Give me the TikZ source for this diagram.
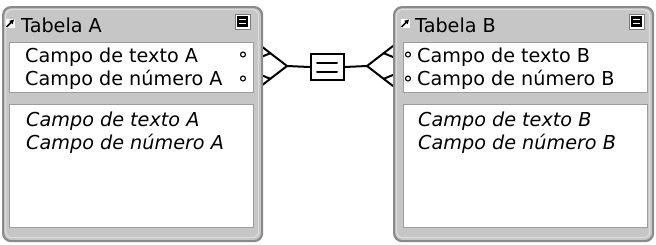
\documentclass[tikz,border=0pt]{standalone}
\usepackage{fontspec}
\setmainfont{DejaVu Sans}
\usepackage{tikz}
\usetikzlibrary{arrows.meta, positioning, calc}
\definecolor{myframefill}{HTML}{C6C6C6}
\definecolor{myframeedge}{HTML}{8A8A8A}
\definecolor{myframelight}{HTML}{DCDCDC}
\definecolor{mypaneledge}{HTML}{9C9C9C}
\definecolor{mybtnedge}{HTML}{7A7A7A}
\tikzset{
tableframe/.style={
draw=myframeedge,
fill=myframefill,
rounded corners=8pt,
line width=2.2pt,
inner sep=0pt,
minimum width=259pt,
minimum height=234pt,
anchor=north west
},
framehighlight/.style={
draw=myframelight,
rounded corners=6pt,
line width=1.2pt,
inner sep=0pt,
minimum width=253pt,
minimum height=228pt,
anchor=north west
},
panel/.style={
draw=mypaneledge,
fill=white,
line width=1.2pt,
inner sep=0pt,
minimum width=244pt,
anchor=north west
},
titletext/.style={
font=\fontsize{19.2}{22}\selectfont,
anchor=base west,
inner sep=0pt
},
fieldtext/.style={
font=\fontsize{19.2}{22}\selectfont,
anchor=base west,
inner sep=0pt
},
listtext/.style={
font=\fontsize{19.2}{22}\selectfont\itshape,
anchor=base west,
inner sep=0pt
},
keydot/.style={
circle,
draw=black,
fill=white,
line width=1.1pt,
minimum size=5pt,
inner sep=0pt
},
iconbox/.style={
fill=white,
minimum width=9pt,
minimum height=9pt,
inner sep=0pt
},
iconarrow/.style={
-{Triangle[length=4.5pt,width=4.5pt]},
line width=1.6pt
},
btnbox/.style={
draw=mybtnedge,
fill=white,
line width=0.8pt,
minimum width=15pt,
minimum height=15pt,
inner sep=0pt
},
btncore/.style={
fill=black,
minimum width=11pt,
minimum height=11pt,
inner sep=0pt
},
crow/.style={
line width=2pt,
line cap=round
},
relbox/.style={
draw=black,
fill=white,
line width=2pt,
minimum width=33pt,
minimum height=26pt,
inner sep=0pt
}
}

\begin{document}
\begin{tikzpicture}[x=1pt,y=-1pt]
\useasboundingbox (0,0) rectangle (656,244);

% crow's feet and relation, behind the frames
\coordinate (tipA) at (287,66);
\coordinate (tipB) at (367,66);
\node[relbox] (rel) at (327,67) {};
\draw[crow] ($(rel.center)+(-10,-4.5)$) -- ($(rel.center)+(10,-4.5)$);
\draw[crow] ($(rel.center)+(-10,4.5)$) -- ($(rel.center)+(10,4.5)$);
\draw[crow] (tipA) -- (rel.west);
\draw[crow] (rel.east) -- (tipB);

\coordinate (outA1) at (261,46);
\coordinate (inA1) at (261,57);
\coordinate (outA2) at (261,86);
\coordinate (inA2) at (261,75);
\draw[crow] (outA1) -- (tipA) -- (outA2);
\draw[crow] (inA1) -- ($(outA1)!0.36!(tipA)$);
\draw[crow] (inA2) -- ($(outA2)!0.36!(tipA)$);

\coordinate (outB1) at (393,46);
\coordinate (inB1) at (393,57);
\coordinate (outB2) at (393,86);
\coordinate (inB2) at (393,75);
\draw[crow] (outB1) -- (tipB) -- (outB2);
\draw[crow] (inB1) -- ($(outB1)!0.36!(tipB)$);
\draw[crow] (inB2) -- ($(outB2)!0.36!(tipB)$);

% Tabela A
\node[tableframe] (frameA) at (2,6) {};
\node[framehighlight] at (5,9) {};
\node[panel, minimum height=50pt] (fieldsA) at (9,42) {};
\node[panel, minimum height=123pt] (listA) at (9,104) {};
\node[iconbox] (iconA) at (10,23.5) {};
\draw[iconarrow] ($(iconA.south west)+(1.3,-1.3)$) -- ($(iconA.north east)+(-0.6,0.6)$);
\node[titletext] (titleA) at (21,32) {Tabela A};
\node[btnbox] (btnA) at (242.5,21.5) {};
\node[btncore] (btnAcore) at (btnA) {};
\draw[white, line width=1.5pt] ($(btnAcore)+(-3.2,-1.9)$) -- ($(btnAcore)+(3.2,-1.9)$);
\draw[white, line width=1.5pt] ($(btnAcore)+(-3.2,1.9)$) -- ($(btnAcore)+(3.2,1.9)$);
\node[fieldtext] (textA) at (25,62) {Campo de texto A};
\node[fieldtext] (numA) at (25,85) {Campo de número A};
\node[keydot] (dotA1) at (243,54.5) {};
\node[keydot] (dotA2) at (243,78.5) {};
\node[listtext] (ltextA) at (26,126) {Campo de texto A};
\node[listtext] (lnumA) at (26,149) {Campo de número A};

% Tabela B
\node[tableframe] (frameB) at (393,6) {};
\node[framehighlight] at (396,9) {};
\node[panel, minimum height=50pt] (fieldsB) at (402.5,42) {};
\node[panel, minimum height=123pt] (listB) at (402.5,104) {};
\node[iconbox] (iconB) at (405,23.5) {};
\draw[iconarrow] ($(iconB.south west)+(1.3,-1.3)$) -- ($(iconB.north east)+(-0.6,0.6)$);
\node[titletext] (titleB) at (415,32) {Tabela B};
\node[btnbox] (btnB) at (636.5,21.5) {};
\node[btncore] (btnBcore) at (btnB) {};
\draw[white, line width=1.5pt] ($(btnBcore)+(-3.2,-1.9)$) -- ($(btnBcore)+(3.2,-1.9)$);
\draw[white, line width=1.5pt] ($(btnBcore)+(-3.2,1.9)$) -- ($(btnBcore)+(3.2,1.9)$);
\node[keydot] (dotB1) at (408,54.5) {};
\node[keydot] (dotB2) at (408,78.5) {};
\node[fieldtext] (textB) at (417,62) {Campo de texto B};
\node[fieldtext] (numB) at (417,85) {Campo de número B};
\node[listtext] (ltextB) at (418,126) {Campo de texto B};
\node[listtext] (lnumB) at (418,149) {Campo de número B};

\end{tikzpicture}
\end{document}
